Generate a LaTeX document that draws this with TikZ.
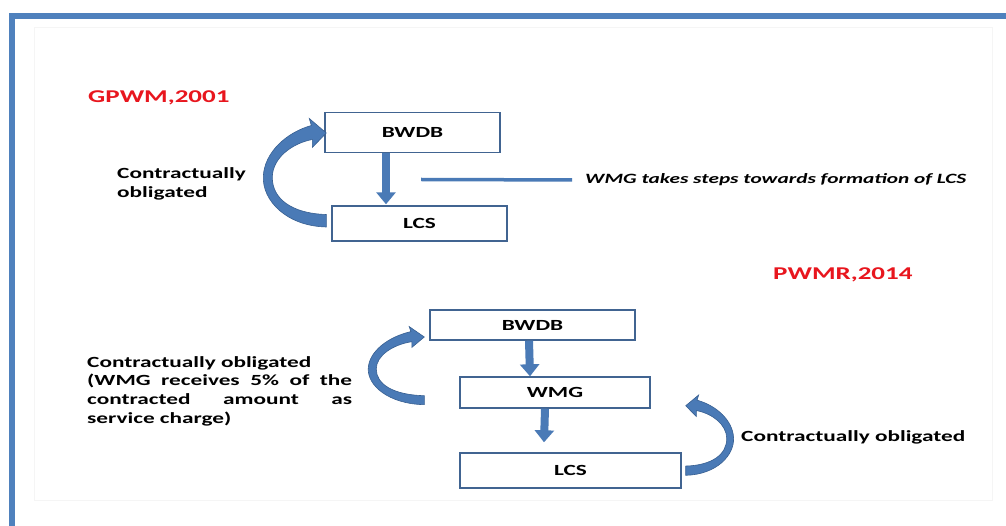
\documentclass[tikz,border=0pt]{standalone}
\usepackage{fontspec}
\setmainfont{Carlito}[FakeStretch=1.5]
\usetikzlibrary{arrows.meta,calc}
\definecolor{frameblue}{RGB}{79,129,189}
\definecolor{arrowfill}{RGB}{74,122,182}
\definecolor{arrowedge}{RGB}{55,95,145}
\definecolor{boxedge}{RGB}{65,100,145}
\definecolor{titlered}{RGB}{232,22,30}
\tikzset{
  lbl/.style={font=\fontsize{15.5}{18.7}\selectfont\bfseries, inner sep=0pt, align=left, anchor=west},
  boxnode/.style={draw=boxedge, line width=1.4pt, fill=white, inner sep=0pt,
    font=\fontsize{15.5}{18}\selectfont\bfseries},
  titletext/.style={text=titlered, font=\fontsize{18}{20}\selectfont\bfseries, inner sep=0pt, anchor=west},
  downarrow/.style={draw=arrowfill, line width=8pt, -{Triangle[width=19pt,length=12pt]}},
  curvarr/.pic={
    \fill[arrowfill, draw=arrowedge, line width=0.6pt]
      (0,6.5) .. controls (-40,5.5) and (-64,-20) .. (-63,-44)
      .. controls (-62,-68) and (-40,-88) .. (-15,-95)
      -- (-17,-102) -- (0,-87.5) -- (-14,-73) -- (-14,-81)
      .. controls (-35,-77) and (-54,-62) .. (-54,-43)
      .. controls (-54,-22) and (-35,-7) .. (0,-6) -- cycle;
  }
}
\begin{document}
\begin{tikzpicture}[x=1pt,y=-1pt]
\useasboundingbox (0,0) rectangle (1006,526);
\fill[white] (0,0) rectangle (1006,526);
% frame
\draw[gray!8, line width=1pt] (34,28) rectangle (992,500);
\draw[frameblue, line width=6pt] (12,526) -- (12,16) -- (1006,16);

% titles
\node[titletext] (t1) at (88,98) {GPWM,2001};
\node[titletext] (t2) at (773,275) {PWMR,2014};

% top diagram
\node[boxnode, minimum width=175pt, minimum height=40pt] (b1) at (412.5,132.5) {BWDB};
\node[boxnode, minimum width=175pt, minimum height=35pt] (l1) at (419.5,223.5) {LCS};
\draw[downarrow] ($(b1.south)+(-26.5,0)$) -- ($(l1.north)+(-33.5,-1)$);
\pic at ($(l1.west)+(-5,-3)$) {curvarr};
\node[lbl] (c1) at (117,184) {Contractually\\obligated};

\coordinate (ls) at (421,179.5);
\node[lbl, font=\fontsize{14.2}{17}\selectfont\bfseries\itshape] (wt) at (585,180) {WMG takes steps towards formation of LCS};
\draw[arrowfill, line width=3.5pt, shorten >=13pt] (ls) -- (wt.west);

% bottom diagram
\node[boxnode, minimum width=205pt, minimum height=30pt] (b2) at (532.5,325) {BWDB};
\node[boxnode, minimum width=190pt, minimum height=31pt] (w) at (555,392.5) {WMG};
\node[boxnode, minimum width=221pt, minimum height=35pt] (l2) at (570.5,470.5) {LCS};
\draw[downarrow] ($(b2.south)+(-3.5,0)$) -- ($(w.north)+(-25,0)$);
\draw[downarrow] ($(w.south)+(-10,0)$) -- ($(l2.north)+(-26.5,-10)$);
\pic[xscale=0.89, yscale=0.72] at ($(w.west)+(-35,7.5)$) {curvarr};
\pic[xscale=-0.76, yscale=0.74] at ($(l2.east)+(4,0)$) {curvarr};

\node[lbl] (c2) at (87,391) {Contractually obligated\\
\makebox[265pt][s]{(WMG receives 5\% of the}\\
\makebox[265pt][s]{contracted amount as}\\
service charge)};
\node[lbl] (c3) at (741,437) {Contractually obligated};
\end{tikzpicture}
\end{document}
